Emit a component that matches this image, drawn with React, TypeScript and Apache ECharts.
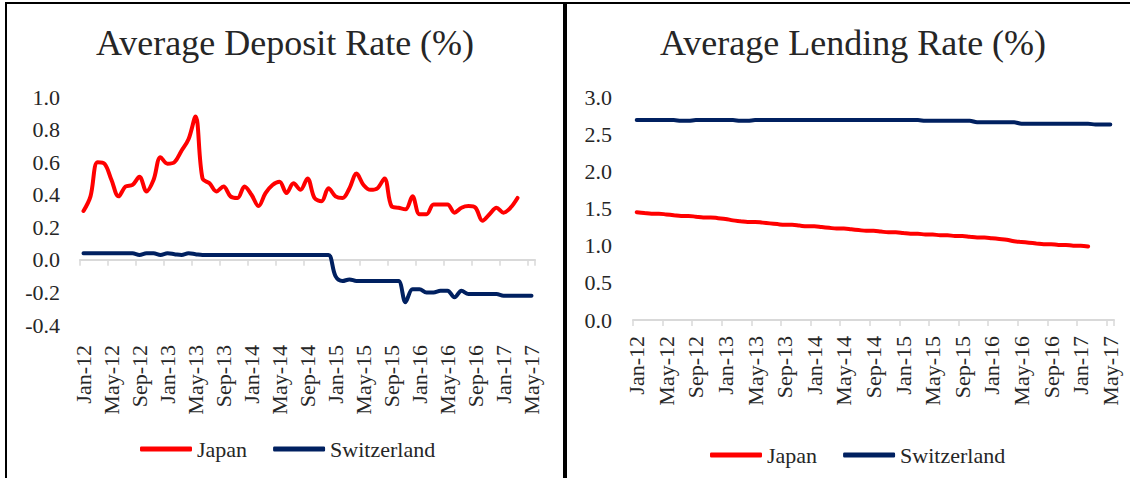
import React, { useEffect, useRef } from "react";
import * as echarts from "echarts";

const MONTHS = ["Jan", "Feb", "Mar", "Apr", "May", "Jun", "Jul", "Aug", "Sep", "Oct", "Nov", "Dec"];
const YEARS = [12, 13, 14, 15, 16, 17];
const categories: string[] = [];
YEARS.forEach((y) => {
  MONTHS.forEach((m, i) => {
    if (y === 17 && i > 4) return;
    categories.push(`${m}-${y}`);
  });
});

const depositJapan = [
  0.30, 0.39, 0.60, 0.59, 0.49, 0.39, 0.45, 0.46, 0.51, 0.42,
  0.49, 0.63, 0.59, 0.60, 0.67, 0.74, 0.88, 0.50, 0.47, 0.42,
  0.45, 0.39, 0.38, 0.45, 0.40, 0.33, 0.41, 0.46, 0.48, 0.41,
  0.47, 0.43, 0.50, 0.38, 0.36, 0.44, 0.39, 0.38, 0.44, 0.53,
  0.46, 0.43, 0.44, 0.50, 0.33, 0.32, 0.31, 0.39, 0.28, 0.28,
  0.34, 0.34, 0.34, 0.29, 0.32, 0.33, 0.32, 0.24, 0.28, 0.32,
  0.29, 0.32, 0.38,
];
const depositSwitzerland = [
  0.04, 0.04, 0.04, 0.04, 0.04, 0.04, 0.04, 0.04, 0.03, 0.04,
  0.04, 0.03, 0.04, 0.035, 0.03, 0.04, 0.035, 0.03, 0.03, 0.03,
  0.03, 0.03, 0.03, 0.03, 0.03, 0.03, 0.03, 0.03, 0.03, 0.03,
  0.03, 0.03, 0.03, 0.03, 0.03, 0.03, -0.10, -0.13, -0.12, -0.13,
  -0.13, -0.13, -0.13, -0.13, -0.13, -0.13, -0.26, -0.18, -0.18, -0.20,
  -0.20, -0.19, -0.19, -0.23, -0.19, -0.21, -0.21, -0.21, -0.21, -0.21,
  -0.22, -0.22, -0.22, -0.22, -0.22,
];
const lendingJapan = [
  1.45, 1.44, 1.43, 1.43, 1.42, 1.41, 1.40, 1.40, 1.39, 1.38,
  1.38, 1.37, 1.36, 1.34, 1.33, 1.32, 1.32, 1.31, 1.30, 1.29,
  1.28, 1.28, 1.27, 1.26, 1.26, 1.25, 1.24, 1.23, 1.23, 1.22,
  1.21, 1.20, 1.20, 1.19, 1.18, 1.18, 1.17, 1.16, 1.16, 1.15,
  1.15, 1.14, 1.14, 1.13, 1.13, 1.12, 1.11, 1.11, 1.10, 1.09,
  1.08, 1.06, 1.05, 1.04, 1.03, 1.02, 1.02, 1.01, 1.01, 1.00,
  1.00, 0.99,
];
const lendingSwitzerland = [
  2.69, 2.69, 2.69, 2.69, 2.69, 2.69, 2.68, 2.68, 2.69, 2.69,
  2.69, 2.69, 2.69, 2.69, 2.68, 2.68, 2.69, 2.69, 2.69, 2.69,
  2.69, 2.69, 2.69, 2.69, 2.69, 2.69, 2.69, 2.69, 2.69, 2.69,
  2.69, 2.69, 2.69, 2.69, 2.69, 2.69, 2.69, 2.69, 2.69, 2.68,
  2.68, 2.68, 2.68, 2.68, 2.68, 2.68, 2.66, 2.66, 2.66, 2.66,
  2.66, 2.66, 2.64, 2.64, 2.64, 2.64, 2.64, 2.64, 2.64, 2.64,
  2.64, 2.64, 2.63, 2.63, 2.63,
];

const leftTicks = { min: -0.4, max: 1.0, interval: 0.2 };
const rightTicks = { min: 0, max: 3.0, interval: 0.5 };

const FONT = "Liberation Serif";
const TEXT = "#262626";
const RED = "#FF0000";
const NAVY = "#002060";
const AXIS = "#d9d9d9";

export default function App() {
  const ref = useRef<HTMLDivElement>(null);
  useEffect(() => {
    if (!ref.current) return;
    const chart = echarts.init(ref.current, undefined, { renderer: "svg" });
    const lineSeries = (name: string, data: number[], color: string, xi: number, yi: number) => ({
      name,
      type: "line",
      xAxisIndex: xi,
      yAxisIndex: yi,
      data,
      smooth: 0.35,
      symbol: "none",
      lineStyle: { width: 4, color, cap: "round" },
      itemStyle: { color },
    });
    const yLabel = { fontSize: 22, color: TEXT, fontFamily: FONT, margin: 20, formatter: (v: number) => v.toFixed(1) };
    const titleText = (text: string, x: number) => ({
      type: "text",
      x,
      y: 43,
      style: {
        text,
        fill: TEXT,
        fontSize: 36,
        fontFamily: FONT,
        align: "center",
        verticalAlign: "middle",
        textAlign: "center",
        textVerticalAlign: "middle",
      },
    });
    const legendCommon = {
      data: ["Japan", "Switzerland"],
      icon: "roundRect",
      padding: 0,
      itemWidth: 52,
      itemHeight: 5,
      itemGap: 26,
      textStyle: { fontSize: 22, color: TEXT, fontFamily: FONT },
    };
    chart.setOption({
      animation: false,
      textStyle: { fontFamily: FONT },
      grid: [
        { left: 80, top: 97, width: 455, height: 228 },
        { left: 633, top: 97, width: 481, height: 223 },
      ],
      xAxis: [
        {
          gridIndex: 0,
          type: "category",
          data: categories,
          boundaryGap: true,
          axisLine: { onZero: true, lineStyle: { color: AXIS, width: 2 } },
          axisTick: { show: true, interval: 3, length: 6, lineStyle: { color: AXIS, width: 1.5 } },
          axisLabel: { show: false },
        },
        {
          gridIndex: 0,
          type: "category",
          data: categories,
          boundaryGap: true,
          position: "bottom",
          axisLine: { show: false, onZero: false },
          axisTick: { show: false },
          axisLabel: { interval: 3, rotate: 90, fontSize: 22, color: TEXT, fontFamily: FONT, margin: 20 },
        },
        {
          gridIndex: 1,
          type: "category",
          data: categories,
          boundaryGap: true,
          axisLine: { lineStyle: { color: AXIS, width: 2 } },
          axisTick: { show: true, interval: 3, length: 6, lineStyle: { color: AXIS, width: 1.5 } },
          axisLabel: { interval: 3, rotate: 90, fontSize: 22, color: TEXT, fontFamily: FONT, margin: 16 },
        },
      ],
      yAxis: [
        {
          gridIndex: 0,
          type: "value",
          ...leftTicks,
          axisLine: { show: false },
          axisTick: { show: false },
          splitLine: { show: false },
          axisLabel: yLabel,
        },
        {
          gridIndex: 1,
          type: "value",
          ...rightTicks,
          axisLine: { show: false },
          axisTick: { show: false },
          splitLine: { show: false },
          axisLabel: { ...yLabel, margin: 21 },
        },
      ],
      legend: [
        { ...legendCommon, left: 140, top: 438 },
        { ...legendCommon, left: 710, top: 444 },
      ],
      series: [
        lineSeries("Japan", depositJapan, RED, 0, 0),
        lineSeries("Switzerland", depositSwitzerland, NAVY, 0, 0),
        lineSeries("Japan", lendingJapan, RED, 2, 1),
        lineSeries("Switzerland", lendingSwitzerland, NAVY, 2, 1),
      ],
      graphic: [
        { type: "rect", shape: { x: 5, y: 2, width: 2, height: 476 }, style: { fill: "#000" }, silent: true },
        { type: "rect", shape: { x: 5, y: 2, width: 1125, height: 2 }, style: { fill: "#000" }, silent: true },
        { type: "rect", shape: { x: 563, y: 2, width: 4, height: 476 }, style: { fill: "#000" }, silent: true },
        titleText("Average Deposit Rate (%)", 285),
        titleText("Average Lending Rate (%)", 853),
      ],
    });
    return () => chart.dispose();
  }, []);
  return (
    <div
      ref={ref}
      style={{ position: "absolute", left: 0, top: 0, width: 1130, height: 478, background: "#fff" }}
    />
  );
}
